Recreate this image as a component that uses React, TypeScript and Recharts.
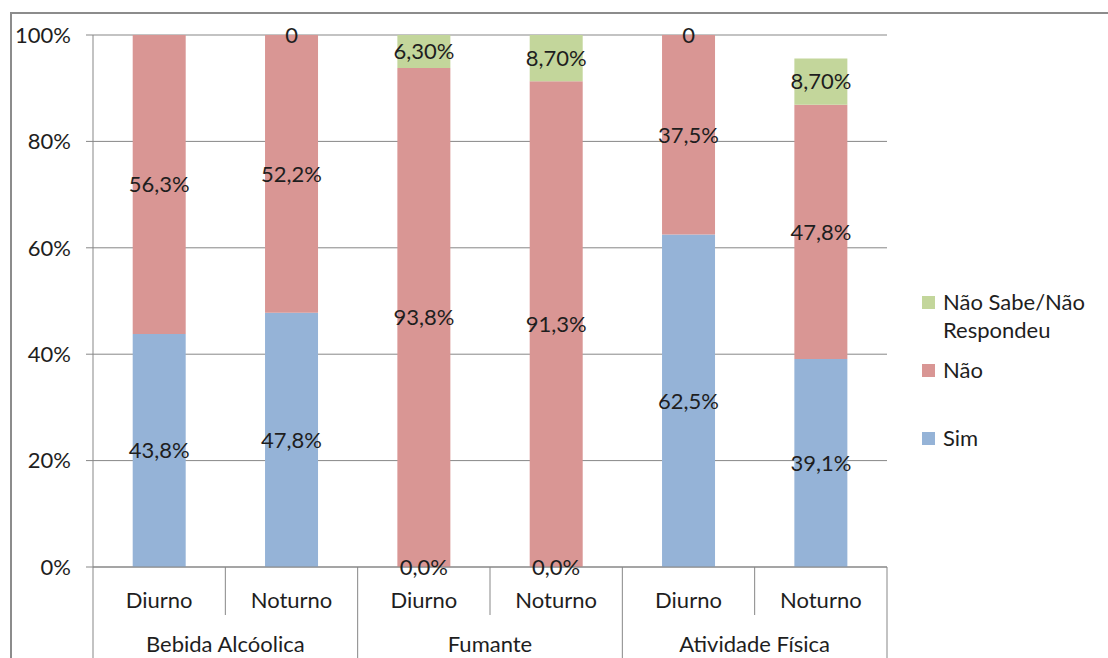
import React from "react";
import { Bar, BarChart, CartesianGrid, LabelList, Legend, XAxis, YAxis } from "recharts";

const turnos = ["Diurno", "Noturno", "Diurno", "Noturno", "Diurno", "Noturno"];
const grupos = ["Bebida Alcóolica", "Bebida Alcóolica", "Fumante", "Fumante", "Atividade Física", "Atividade Física"];
const sim = [43.8, 47.8, 0, 0, 62.5, 39.1];
const nao = [56.3, 52.2, 93.8, 91.3, 37.5, 47.8];
const naoSabe = [0, 0, 6.3, 8.7, 0, 8.7];
const simLabels = ["43,8%", "47,8%", "0,0%", "0,0%", "62,5%", "39,1%"];
const naoLabels = ["56,3%", "52,2%", "93,8%", "91,3%", "37,5%", "47,8%"];
const naoSabeLabels = ["", "0", "6,30%", "8,70%", "0", "8,70%"];
const yTicks = [0, 20, 40, 60, 80, 100];

const FONT = "Lato, 'Open Sans', sans-serif";
const FS = 22;
const TEXT = "#1e1e1e";
const LINE = "#878787";

const W = 1108;
const H = 658;
const M = { top: 35, right: 221, left: 10, bottom: 0 };
const Y_W = 83;
const PLOT_W = W - M.left - M.right - Y_W;
const BAND = PLOT_W / turnos.length;

const data = turnos.map((t, i) => ({
  turno: t,
  grupo: grupos[i],
  sim: sim[i],
  nao: nao[i],
  naoSabe: naoSabe[i],
  simLabel: simLabels[i],
  naoLabel: naoLabels[i],
  naoSabeLabel: naoSabeLabels[i],
}));

const series = [
  { key: "sim", label: "simLabel", name: "Sim", color: "#95b3d7" },
  { key: "nao", label: "naoLabel", name: "Não", color: "#d99694" },
  { key: "naoSabe", label: "naoSabeLabel", name: "Não Sabe/Não Respondeu", color: "#c3d69b" },
];

// two-row category axis: shift (Diurno/Noturno) on top, group below
const CategoryTick = (props: any) => {
  const { x, y, payload, index } = props;
  const half = BAND / 2;
  const textProps = { textAnchor: "middle" as const, fill: TEXT, fontSize: FS, fontFamily: FONT, dy: "0.355em" };
  return (
    <g>
      <text x={x} y={y + 33} {...textProps}>
        {payload.value}
      </text>
      {index === 0 && <line x1={x - half} x2={x - half} y1={y} y2={y + 100} stroke={LINE} />}
      {index % 2 === 0 ? (
        <line x1={x + half} x2={x + half} y1={y} y2={y + 48} stroke={LINE} />
      ) : (
        <>
          <line x1={x + half} x2={x + half} y1={y} y2={y + 100} stroke={LINE} />
          <text x={x - half} y={y + 77} {...textProps}>
            {grupos[index]}
          </text>
        </>
      )}
    </g>
  );
};

const LegendBox = () => {
  const items = [...series].reverse();
  const gaps = [12, 40, 0];
  return (
    <div style={{ fontFamily: FONT, fontSize: FS, color: TEXT, width: 175 }}>
      {items.map((s, i) => (
        <div key={s.key} style={{ display: "flex", alignItems: "flex-start", marginBottom: gaps[i] }}>
          <div style={{ width: 13, height: 13, background: s.color, marginTop: 8, marginRight: 8, flexShrink: 0 }} />
          <div style={{ lineHeight: "28px", width: 150, whiteSpace: "nowrap" }}>
            {s.key === "naoSabe" ? (
              <>
                Não Sabe/Não
                <br />
                Respondeu
              </>
            ) : (
              s.name
            )}
          </div>
        </div>
      ))}
    </div>
  );
};

export default function App() {
  return (
    <div style={{ position: "absolute", left: 0, top: 0, width: W, height: H, overflow: "hidden", background: "#fff" }}>
      <div
        style={{
          position: "absolute",
          left: 10,
          top: 12,
          width: 1200,
          height: 800,
          border: "2px solid #8c8c8c",
          boxSizing: "border-box",
        }}
      />
      <div style={{ position: "absolute", left: 0, top: 0 }}>
        <BarChart width={W} height={H} data={data} margin={M} barCategoryGap="30%">
          <CartesianGrid vertical={false} stroke={LINE} />
          <YAxis
            width={Y_W}
            domain={[0, 100]}
            allowDataOverflow
            ticks={yTicks}
            tickFormatter={(v) => `${v}%`}
            stroke={LINE}
            tickSize={7}
            tickMargin={15}
            tick={{ fill: TEXT, fontSize: FS, fontFamily: FONT }}
          />
          <XAxis
            dataKey="turno"
            height={91}
            stroke={LINE}
            tickLine={false}
            tickSize={0}
            tickMargin={0}
            interval={0}
            tick={<CategoryTick />}
          />
          <Legend
            layout="horizontal"
            align="center"
            verticalAlign="middle"
            content={<LegendBox />}
            wrapperStyle={{ position: "absolute", left: 922, top: 288, width: 180 }}
          />
          {series.map((s) => (
            <Bar
              key={s.key}
              dataKey={s.key}
              name={s.name}
              stackId="a"
              fill={s.color}
              minPointSize={0.01}
              isAnimationActive={false}
            >
              <LabelList
                dataKey={s.label}
                position="center"
                fill={TEXT}
                fontSize={FS}
                fontFamily={FONT}
              />
            </Bar>
          ))}
        </BarChart>
      </div>
    </div>
  );
}
